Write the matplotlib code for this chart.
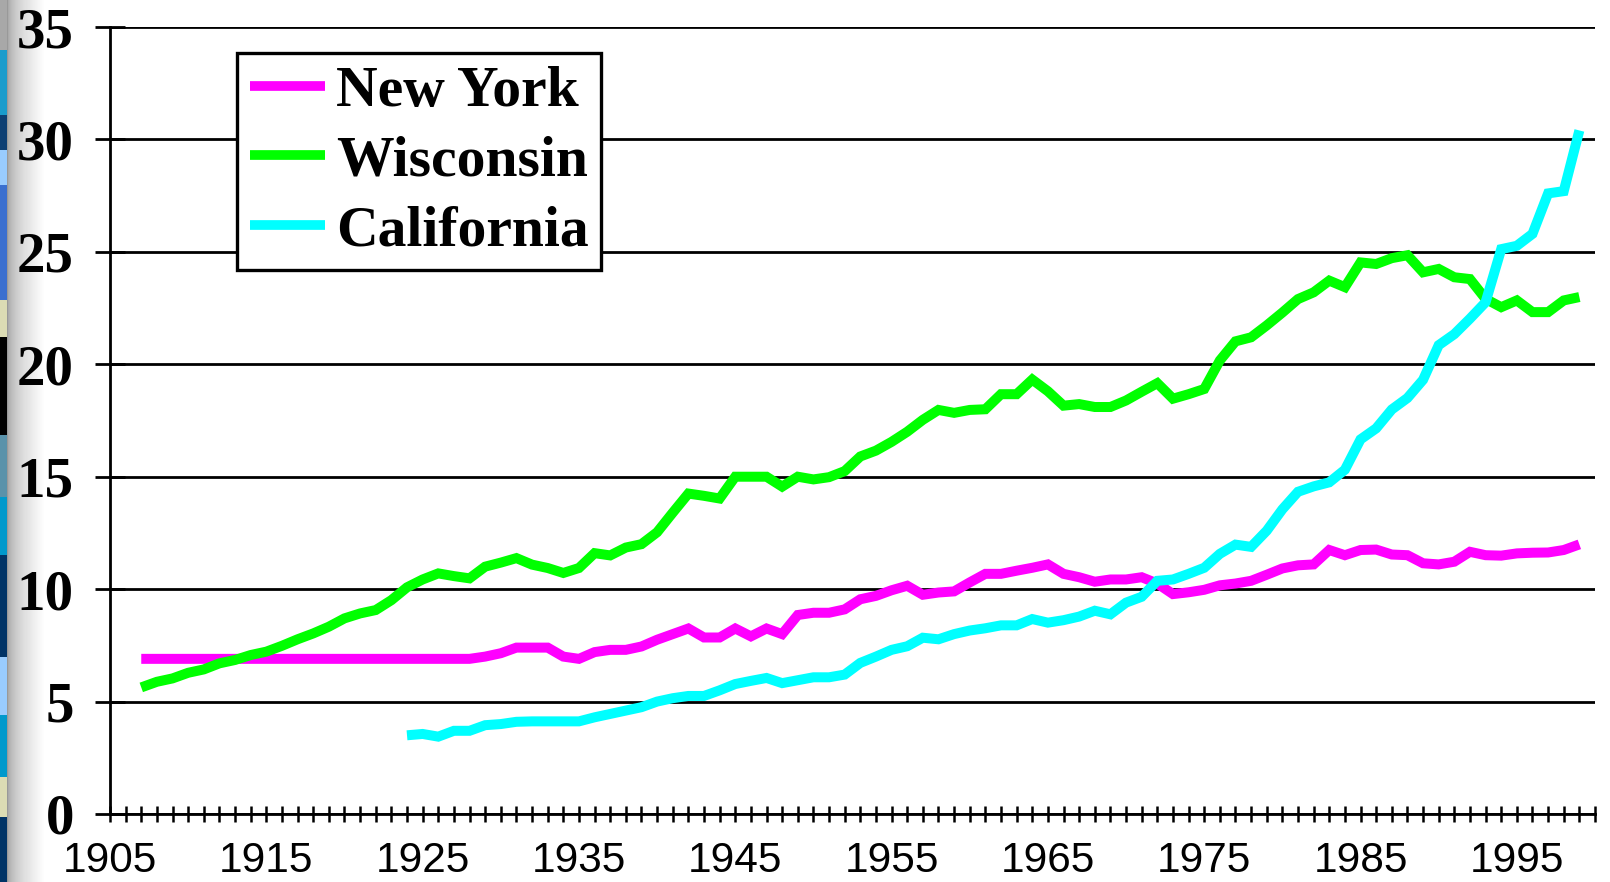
import matplotlib
matplotlib.use("Agg")
import matplotlib.pyplot as plt
from matplotlib.colors import to_rgb
import numpy as np

# --- data ---------------------------------------------------------------
ny_years = np.arange(1907, 2000)
wi_years = np.arange(1907, 2000)
ca_years = np.arange(1924, 2000)

ny_rate = [
    6.9, 6.9, 6.9, 6.9, 6.9, 6.9, 6.9, 6.9, 6.9, 6.9,            # 1907-1916
    6.9, 6.9, 6.9, 6.9, 6.9, 6.9, 6.9, 6.9, 6.9, 6.9,            # 1917-1926
    6.9, 6.9, 7.0, 7.15, 7.4, 7.4, 7.4, 7.0, 6.9, 7.2,           # 1927-1936
    7.3, 7.3, 7.45, 7.75, 8.0, 8.25, 7.85, 7.85, 8.25, 7.9,      # 1937-1946
    8.25, 8.0, 8.85, 8.95, 8.95, 9.1, 9.55, 9.7, 9.95, 10.15,    # 1947-1956
    9.75, 9.85, 9.9, 10.3, 10.68, 10.68, 10.82, 10.95, 11.1, 10.68,   # 1957-1966
    10.53, 10.33, 10.43, 10.43, 10.53, 10.25, 9.78, 9.86, 9.97, 10.17,  # 1967-1976
    10.25, 10.37, 10.64, 10.92, 11.06, 11.1, 11.74, 11.51, 11.74, 11.76,  # 1977-1986
    11.54, 11.51, 11.15, 11.1, 11.22, 11.66, 11.51, 11.49, 11.59, 11.62,  # 1987-1996
    11.63, 11.74, 11.99,                                          # 1997-1999
]

wi_rate = [
    5.63, 5.88, 6.03, 6.28, 6.43, 6.70, 6.85, 7.07, 7.22, 7.48,       # 1907-1916
    7.77, 8.03, 8.33, 8.70, 8.92, 9.07, 9.51, 10.08, 10.43, 10.70,    # 1917-1926
    10.58, 10.48, 11.0, 11.18, 11.38, 11.09, 10.94, 10.72, 10.94, 11.6,  # 1927-1936
    11.5, 11.85, 12.0, 12.53, 13.4, 14.25, 14.15, 14.03, 15.0, 15.0,  # 1937-1946
    15.0, 14.56, 15.0, 14.88, 14.98, 15.25, 15.9, 16.16, 16.55, 17.0, # 1947-1956
    17.53, 17.97, 17.84, 17.97, 18.0, 18.67, 18.67, 19.32, 18.8, 18.16,  # 1957-1966
    18.23, 18.1, 18.1, 18.39, 18.78, 19.16, 18.47, 18.67, 18.9, 20.17,   # 1967-1976
    21.02, 21.2, 21.73, 22.3, 22.9, 23.2, 23.72, 23.43, 24.53, 24.46,    # 1977-1986
    24.72, 24.85, 24.09, 24.24, 23.87, 23.79, 22.91, 22.54, 22.84, 22.32,  # 1987-1996
    22.32, 22.84, 22.99,                                              # 1997-1999
]

ca_rate = [
    3.5, 3.56, 3.44, 3.7, 3.7, 3.95,                                  # 1924-1929
    4.0, 4.1, 4.12, 4.12, 4.12, 4.12, 4.3, 4.45, 4.6, 4.75,           # 1930-1939
    5.0, 5.15, 5.25, 5.25, 5.5, 5.78, 5.92, 6.05, 5.82, 5.95,         # 1940-1949
    6.08, 6.08, 6.2, 6.72, 7.0, 7.3, 7.46, 7.84, 7.77, 8.0,           # 1950-1959
    8.16, 8.26, 8.39, 8.39, 8.67, 8.51, 8.62, 8.78, 9.04, 8.88,       # 1960-1969
    9.4, 9.66, 10.37, 10.43, 10.68, 10.95, 11.57, 11.98, 11.88, 12.6, # 1970-1979
    13.55, 14.33, 14.57, 14.75, 15.31, 16.66, 17.15, 17.99, 18.5, 19.31,  # 1980-1989
    20.85, 21.34, 22.03, 22.76, 25.12, 25.27, 25.8, 27.6, 27.7, 30.4,     # 1990-1999
]

series_labels = ["New York", "Wisconsin", "California"]
series_colors = ["#FF00FF", "#00FF00", "#00FFFF"]

year_labels = [1905, 1915, 1925, 1935, 1945, 1955, 1965, 1975, 1985, 1995]
y_ticks = [0, 5, 10, 15, 20, 25, 30, 35]

# --- figure -------------------------------------------------------------
W, H = 1610, 882
fig = plt.figure(figsize=(W / 100, H / 100), dpi=100)
fig.patch.set_facecolor("white")

# slide background strip on the left edge (decoration)
deco = fig.add_axes([0, 0, 50 / W, 1])
deco.set_axis_off()
blocks = [(0, 50, "#a8a8a8"), (50, 115, "#1a9ccc"), (115, 150, "#0d3f73"),
          (150, 185, "#99ccff"), (185, 300, "#3a6fcf"), (300, 337, "#dcdcb4"),
          (337, 435, "#000000"), (435, 497, "#5a92aa"), (497, 555, "#0099cc"),
          (555, 657, "#003366"), (657, 715, "#99ccff"), (715, 777, "#0099cc"),
          (777, 817, "#dcdcb4"), (817, 882, "#003366")]
img = np.ones((H, 50, 3))
xs = np.arange(50)
shade = np.clip((xs - 7) / 36.0, 0, 1)
grey = 0.6 + 0.4 * np.sqrt(shade)
img[:, :, :] = grey[None, :, None]
for y0, y1, c in blocks:
    img[y0:y1, :7, :] = to_rgb(c)
deco.imshow(img, aspect="auto", extent=(0, 50, H, 0), interpolation="nearest")

ax = fig.add_axes([110 / W, 1 - 814 / H, (1595 - 110) / W, (814 - 27) / H])
ax.set_facecolor("white")

for yrs, vals, lab, col in zip([ny_years, wi_years, ca_years],
                               [ny_rate, wi_rate, ca_rate],
                               series_labels, series_colors):
    ax.plot(yrs, vals, color=col, lw=7.2, label=lab,
            solid_capstyle="butt", solid_joinstyle="miter")

ax.set_xlim(1905, 2000)
ax.set_ylim(0, 35)

# horizontal gridlines
ax.set_yticks(y_ticks)
ax.yaxis.grid(True, color="black", lw=2.0)
ax.set_axisbelow(True)

ax.set_xticks(year_labels)
ax.set_xticks(np.arange(1905, 2001), minor=True)

for side in ["top", "right"]:
    ax.spines[side].set_visible(False)
for side in ["left", "bottom"]:
    ax.spines[side].set_linewidth(2.0)
    ax.spines[side].set_color("black")

ax.tick_params(axis="y", which="major", direction="inout", length=22, width=2.0,
               pad=15)
ax.tick_params(axis="x", which="both", direction="inout", length=11.5, width=1.8,
               pad=14)

for t in ax.get_yticklabels():
    t.set_fontfamily("Liberation Serif")
    t.set_fontweight("bold")
    t.set_fontsize(41)
for t in ax.get_xticklabels():
    t.set_fontfamily("Liberation Sans")
    t.set_fontsize(30.5)

leg = ax.legend(loc="upper left", bbox_to_anchor=(237 / W, 1 - 53 / H),
                bbox_transform=fig.transFigure, borderaxespad=0,
                prop={"family": "Liberation Serif", "weight": "bold", "size": 41.5},
                handlelength=1.3, handletextpad=0.2, labelspacing=0.3,
                borderpad=0.22, fancybox=False, framealpha=1)
leg.get_frame().set_edgecolor("black")
leg.get_frame().set_linewidth(2.4)
for h in leg.get_lines():
    h.set_linewidth(7)

fig.savefig("out.png", dpi=100)
